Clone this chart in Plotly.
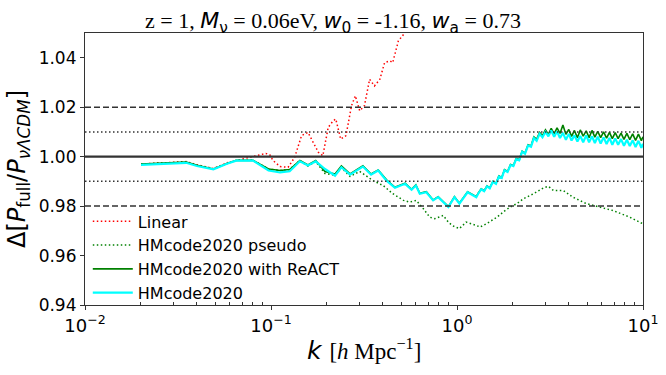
import plotly.graph_objects as go

# HMcode2020 (cyan) and HMcode2020 with ReACT share the low-k grid
k_low = [0.020, 0.035, 0.040, 0.049, 0.058, 0.065, 0.080, 0.097, 0.112, 0.126,
         0.143, 0.158, 0.174, 0.195, 0.221, 0.239, 0.266, 0.312, 0.345, 0.377,
         0.418, 0.464, 0.526, 0.570, 0.601, 0.631, 0.684, 0.744, 0.792, 0.860,
         0.899, 0.969, 1.03, 1.14, 1.27]
k_high = [1.30, 1.35, 1.40, 1.45, 1.50, 1.56, 1.62, 1.68, 1.74, 1.80, 1.87, 1.94,
          2.01, 2.08, 2.16, 2.24, 2.32, 2.41, 2.50, 2.59, 2.68, 2.78, 2.88, 2.99,
          3.10, 3.21, 3.33, 3.45, 3.58, 3.71, 3.85, 3.99, 4.13, 4.28, 4.44, 4.60,
          4.77, 4.95, 5.13, 5.32, 5.51, 5.71, 5.92, 6.14, 6.37, 6.60, 6.84, 7.09,
          7.35, 7.62, 7.90, 8.19, 8.49, 8.80, 9.12, 9.45, 9.80, 10.0]

hm_low = [0.9967, 0.9975, 0.9962, 0.9949, 0.9971, 0.9984, 0.9984, 0.9944, 0.9936, 0.9941,
          0.9981, 0.9964, 0.9981, 0.9950, 0.9923, 0.9957, 0.9927, 0.9960, 0.9927, 0.9944,
          0.9903, 0.9874, 0.9890, 0.9866, 0.9883, 0.9850, 0.9856, 0.9823, 0.9836, 0.9810,
          0.9796, 0.9836, 0.9810, 0.9856, 0.9836]
hm_high = [0.9850, 0.9868, 0.9860, 0.9880, 0.9872, 0.9898, 0.9890, 0.9920, 0.9914, 0.9945,
           0.9938, 0.9966, 0.9962, 0.9990, 0.9985, 1.0020, 1.0012, 1.0045, 1.0040, 1.0075,
           1.0064, 1.0092, 1.0078, 1.0100, 1.0082, 1.0106, 1.0080, 1.0102, 1.0075, 1.0096,
           1.0068, 1.0092, 1.0065, 1.0086, 1.0061, 1.0084, 1.0058, 1.0086, 1.0058, 1.0082,
           1.0055, 1.0081, 1.0053, 1.0078, 1.0051, 1.0076, 1.0048, 1.0074, 1.0048, 1.0071,
           1.0044, 1.0068, 1.0043, 1.0066, 1.0039, 1.0064, 1.0036, 1.0052]

react_low = [0.9970, 0.9978, 0.9965, 0.9950, 0.9972, 0.9985, 0.9985, 0.9950, 0.9944, 0.9948,
             0.9984, 0.9966, 0.9984, 0.9940, 0.9930, 0.9962, 0.9930, 0.9963, 0.9930, 0.9946,
             0.9906, 0.9876, 0.9893, 0.9868, 0.9886, 0.9852, 0.9858, 0.9825, 0.9838, 0.9812,
             0.9798, 0.9838, 0.9812, 0.9858, 0.9838]
react_high = [0.9852, 0.9870, 0.9862, 0.9882, 0.9874, 0.9900, 0.9892, 0.9922, 0.9916, 0.9947,
              0.9940, 0.9968, 0.9964, 0.9992, 0.9987, 1.0022, 1.0014, 1.0048, 1.0043, 1.0080,
              1.0070, 1.0098, 1.0085, 1.0108, 1.0090, 1.0114, 1.0092, 1.0116, 1.0094, 1.0128,
              1.0090, 1.0110, 1.0082, 1.0106, 1.0076, 1.0108, 1.0083, 1.0104, 1.0077, 1.0106,
              1.0079, 1.0102, 1.0077, 1.0100, 1.0075, 1.0098, 1.0073, 1.0097, 1.0073, 1.0095,
              1.0070, 1.0094, 1.0069, 1.0092, 1.0066, 1.0091, 1.0065, 1.0080]

k_pseudo = [0.020, 0.035, 0.040, 0.049, 0.058, 0.065, 0.080, 0.097, 0.112, 0.126,
            0.143, 0.158, 0.174, 0.195, 0.221, 0.239, 0.266, 0.300, 0.354, 0.401,
            0.452, 0.516, 0.557, 0.604, 0.658, 0.714, 0.760, 0.843, 0.899, 0.95,
            1.03, 1.12, 1.27, 1.33, 1.45, 1.64, 1.80, 1.93, 2.10, 2.28,
            2.58, 2.92, 3.10, 3.30, 3.73, 4.20, 4.96, 5.83, 6.9, 8.5, 9.8, 10.0]
pseudo = [0.9970, 0.9978, 0.9965, 0.9950, 0.9972, 0.9985, 0.9985, 0.9950, 0.9944, 0.9948,
          0.9984, 0.9962, 0.9980, 0.9932, 0.9925, 0.9955, 0.9920, 0.9940, 0.9903, 0.9883,
          0.9850, 0.9823, 0.9816, 0.9823, 0.9790, 0.9755, 0.9749, 0.9762, 0.9735, 0.9720,
          0.9709, 0.9735, 0.9722, 0.9715, 0.9730, 0.9755, 0.9780, 0.9796, 0.9810, 0.9830,
          0.9850, 0.9874, 0.9880, 0.9863, 0.9863, 0.9836, 0.9810, 0.9796, 0.9782, 0.9755,
          0.9731, 0.9728]

k_linear = [0.020, 0.035, 0.040, 0.049, 0.058, 0.0706, 0.0836, 0.0938, 0.0984, 0.1026,
            0.112, 0.1236, 0.134, 0.146, 0.158, 0.169, 0.180, 0.190, 0.203, 0.216,
            0.223, 0.237, 0.253, 0.271, 0.284, 0.300, 0.318, 0.339, 0.360, 0.385,
            0.408, 0.436, 0.451, 0.484, 0.516, 0.560]
linear = [0.9970, 0.9980, 0.9967, 0.9952, 0.9975, 0.9991, 1.0004, 1.0013, 1.0008, 0.9984,
          0.9960, 0.9957, 0.9997, 1.0085, 1.0098, 1.0058, 1.0017, 1.0004, 1.0118, 1.0145,
          1.0152, 1.0071, 1.0085, 1.0206, 1.0246, 1.0185, 1.0206, 1.0313, 1.0286, 1.0313,
          1.0380, 1.0387, 1.0380, 1.0468, 1.0494, 1.0560]

# reference lines: (value, dash, width)
ref_lines = [(1.02, "6px,3px", 1.5), (0.98, "6px,3px", 1.5),
             (1.01, "1.5px,2.5px", 1.5), (0.99, "1.5px,2.5px", 1.5),
             (1.00, "solid", 2.2)]

fig = go.Figure()

fig.add_trace(go.Scatter(x=k_linear, y=linear, name="Linear", mode="lines",
                         line=dict(color="red", width=1.5, dash="1.5px,2.5px")))
fig.add_trace(go.Scatter(x=k_pseudo, y=pseudo, name="HMcode2020 pseudo", mode="lines",
                         line=dict(color="green", width=1.5, dash="1.5px,2.5px")))
fig.add_trace(go.Scatter(x=k_low + k_high, y=react_low + react_high,
                         name="HMcode2020 with ReACT", mode="lines",
                         line=dict(color="green", width=1.6)))
fig.add_trace(go.Scatter(x=k_low + k_high, y=hm_low + hm_high, name="HMcode2020",
                         mode="lines", line=dict(color="cyan", width=2.2)))

for val, dash, w in ref_lines:
    fig.add_shape(type="line", xref="paper", x0=0, x1=1, yref="y", y0=val, y1=val,
                  line=dict(color="#333333", width=w, dash=dash), layer="above")

serif = "font-family:'Liberation Serif', 'Times New Roman', serif"
title = (f"<span style=\"{serif}\">z = 1, </span><i>M</i><sub>ν</sub>"
         f"<span style=\"{serif}\"> = 0.06eV, </span><i>w</i><sub>0</sub>"
         f"<span style=\"{serif}\"> = -1.16, </span><i>w</i><sub>a</sub>"
         f"<span style=\"{serif}\"> = 0.73</span>")

xlabel = ("<i>k</i> <span style=\"font-family:'Liberation Serif', serif; font-size:23px\">"
          "[<i>h</i> Mpc<sup>−1</sup>]</span>")
ylabel = "Δ[<i>P</i><sub>full</sub>/<i>P</i><sub><i>νΛCDM</i></sub>]"

fig.update_layout(
    width=666,
    height=375,
    margin=dict(l=85, r=23, t=33, b=70, autoexpand=False),
    paper_bgcolor="white",
    plot_bgcolor="white",
    font=dict(family="DejaVu Sans", color="black", size=17),
    title=dict(text=title, x=0.5, xanchor="center", y=0.945, yanchor="middle",
               font=dict(size=22, family="DejaVu Sans")),
    showlegend=True,
    legend=dict(x=0.005, y=0.37, xanchor="left", yanchor="top",
                bgcolor="rgba(0,0,0,0)", font=dict(size=16), itemwidth=40,
                tracegroupgap=0),
    xaxis=dict(
        type="log",
        range=[-2, 1],
        automargin=False,
        showline=True, linecolor="#333333", linewidth=1.2, mirror=True,
        showgrid=False, zeroline=False,
        ticks="outside", ticklen=4, tickcolor="#333333",
        tickvals=[0.01, 0.1, 1, 10],
        ticktext=["10<sup>−2</sup>", "10<sup>−1</sup>", "10<sup>0</sup>", "10<sup>1</sup>"],
        tickfont=dict(size=18),
        minor=dict(ticks="inside", ticklen=2.5, tickcolor="#333333", showgrid=False,
                   tickvals=[0.02, 0.03, 0.04, 0.05, 0.06, 0.07, 0.08, 0.09,
                             0.2, 0.3, 0.4, 0.5, 0.6, 0.7, 0.8, 0.9,
                             2, 3, 4, 5, 6, 7, 8, 9]),
    ),
    yaxis=dict(
        range=[0.94, 1.05],
        automargin=False,
        showline=True, linecolor="#333333", linewidth=1.2, mirror=True,
        showgrid=False, zeroline=False,
        ticks="outside", ticklen=4, tickcolor="#333333",
        tickvals=[0.94, 0.96, 0.98, 1.00, 1.02, 1.04],
        ticktext=["0.94", "0.96", "0.98", "1.00", "1.02", "1.04"],
        tickfont=dict(size=17),
    ),
    annotations=[
        dict(text=xlabel, xref="paper", yref="paper", x=0.5, y=-0.165,
             xanchor="center", yanchor="middle", showarrow=False, font=dict(size=25)),
        dict(text=ylabel, xref="paper", yref="paper", x=-0.12, y=0.5,
             xanchor="center", yanchor="middle", showarrow=False, textangle=-90,
             font=dict(size=24)),
    ],
)

fig.write_html("out.html", config={"displayModeBar": False},
               post_script="document.body.style.margin='0';")
